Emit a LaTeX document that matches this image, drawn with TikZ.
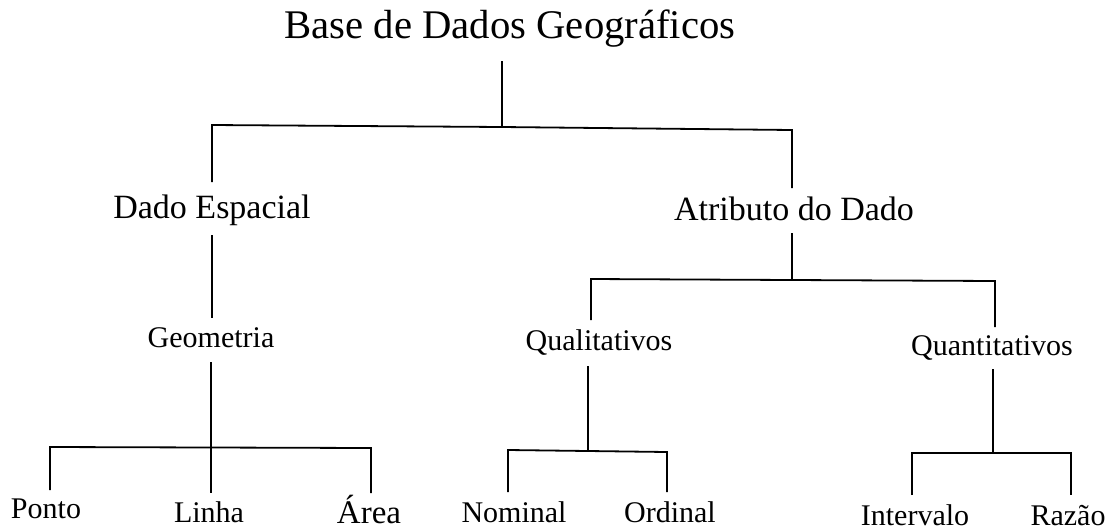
\documentclass[tikz,border=0pt]{standalone}
\usepackage{fontspec}
\setmainfont{Liberation Serif}
\begin{document}
\begin{tikzpicture}[x=1pt,y=-1pt,
  lbl/.style={inner sep=0pt,anchor=base,font=\fontsize{30}{36}\selectfont},
  lblmid/.style={inner sep=0pt,anchor=base,font=\fontsize{34}{40}\selectfont},
  lbltop/.style={inner sep=0pt,anchor=base,font=\fontsize{40.7}{48}\selectfont},
  conn/.style={line width=1.8pt,line cap=butt,line join=miter}]
\useasboundingbox (0,0) rectangle (1114,531);
% nodes
\node[lbltop] (root) at (510,38) {Base de Dados Geográficos};
\node[lblmid] (esp) at (212,218) {Dado Espacial};
\node[lblmid] (atr) at (794,220) {Atributo do Dado};
\node[lbl] (geo) at (211,347) {Geometria};
\node[lbl] (qual) at (599,350) {Qualitativos};
\node[lbl] (quan) at (992,355) {Quantitativos};
\node[lbl] (ponto) at (46,518) {Ponto};
\node[lbl] (linha) at (209,522) {Linha};
\node[lbl,font=\fontsize{33}{40}\selectfont] (area) at (369,523) {Área};
\node[lbl] (nom) at (514,522) {Nominal};
\node[lbl] (ord) at (670,522) {Ordinal};
\node[lbl] (int) at (915,525) {Intervalo};
\node[lbl] (raz) at (1068,525) {Razão};
% connector points
\coordinate (r0) at (502,61);
\coordinate (r1) at (502,127);
\coordinate (rL) at (212,125);
\coordinate (rR) at (792,130);
\coordinate (eT) at (212,182);
\coordinate (aT) at (792,188);
% espacial
\coordinate (e0) at (212,235);
\coordinate (e1) at (212,318);
% atributo
\coordinate (a0) at (792,233);
\coordinate (a1) at (792,280);
\coordinate (aL) at (591,279);
\coordinate (aR) at (995,281);
\coordinate (qlT) at (591,320);
\coordinate (qnT) at (995,327);
% geometria
\coordinate (g0) at (211,362);
\coordinate (g1) at (211,447.5);
\coordinate (gL) at (50,447);
\coordinate (gR) at (371,448);
\coordinate (pT) at (50,490);
\coordinate (lT) at (211,493);
\coordinate (arT) at (371,493);
% qualitativos
\coordinate (q0) at (588,366);
\coordinate (q1) at (588,451);
\coordinate (qL) at (508,450);
\coordinate (qR) at (667,452);
\coordinate (nT) at (508,492);
\coordinate (oT) at (667,492);
% quantitativos
\coordinate (n0) at (993,369);
\coordinate (n1) at (993,453);
\coordinate (nL) at (912,453);
\coordinate (nR) at (1071,453);
\coordinate (iT) at (912,495);
\coordinate (zT) at (1071,495);
% draw
\draw[conn] (r0) -- (r1);
\draw[conn] (eT) -- (rL) -- (r1) -- (rR) -- (aT);
\draw[conn] (e0) -- (e1);
\draw[conn] (a0) -- (a1);
\draw[conn] (qlT) -- (aL) -- (a1) -- (aR) -- (qnT);
\draw[conn] (g0) -- (g1) -- (lT);
\draw[conn] (pT) -- (gL) -- (g1) -- (gR) -- (arT);
\draw[conn] (q0) -- (q1);
\draw[conn] (nT) -- (qL) -- (q1) -- (qR) -- (oT);
\draw[conn] (n0) -- (n1);
\draw[conn] (iT) -- (nL) -- (n1) -- (nR) -- (zT);
\end{tikzpicture}
\end{document}
